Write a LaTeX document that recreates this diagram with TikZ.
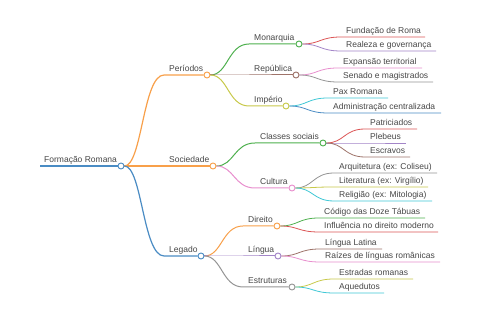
\documentclass[tikz,border=0pt]{standalone}
\usepackage{fontspec}
\setmainfont{Liberation Sans}
\usetikzlibrary{backgrounds}
\definecolor{mmblue}{HTML}{4A8CC4}
\definecolor{mmorange}{HTML}{F8A04A}
\definecolor{mmgreen}{HTML}{4EB04E}
\definecolor{mmred}{HTML}{DC5556}
\definecolor{mmpurple}{HTML}{A385C8}
\definecolor{mmbrown}{HTML}{9E7369}
\definecolor{mmpink}{HTML}{E88FCE}
\definecolor{mmgray}{HTML}{959595}
\definecolor{mmolive}{HTML}{C8C94A}
\definecolor{mmcyan}{HTML}{40C8D6}
\begin{document}
\begin{tikzpicture}[x=1pt, y=-1pt, font=\fontsize{8.5}{10}\selectfont]
      \tikzset{lbl/.style={anchor=base west, inner sep=0pt, text=black!72},
        dot/.style={circle, draw, fill=white, inner sep=0pt, minimum size=6pt, line width=0.9pt},
        l0/.style={line width=1.4pt}, l1/.style={line width=1.2pt},
        l2/.style={line width=1pt}, l3/.style={line width=0.8pt}}
      \useasboundingbox (0,0) rectangle (480,320);
      % root
      \node[lbl] (root) at (44,163) {Formação Romana};
      \coordinate (rootS) at (40,166);
      \node[dot, draw=mmblue] (rootC) at (121,166) {};
      % first level
      \node[lbl] (per) at (169,72) {Períodos};
      \coordinate (perS) at (164,75);
      \node[dot, draw=mmorange] (perC) at (207,75) {};
      \node[lbl] (soc) at (169,163) {Sociedade};
      \coordinate (socS) at (164,166);
      \node[dot, draw=mmorange] (socC) at (213,166) {};
      \node[lbl] (leg) at (169,253) {Legado};
      \coordinate (legS) at (164,256);
      \node[dot, draw=mmblue] (legC) at (201,256) {};
      % second level
      \node[lbl] (mon) at (254,41) {Monarquia};
      \coordinate (monS) at (249,44);
      \node[dot, draw=mmgreen] (monC) at (299,44) {};
      \node[lbl] (rep) at (254,72) {República};
      \coordinate (repS) at (249,75);
      \node[dot, draw=mmbrown] (repC) at (296,75) {};
      \node[lbl] (imp) at (254,103) {Império};
      \coordinate (impS) at (249,106);
      \node[dot, draw=mmolive] (impC) at (286,106) {};
      \node[lbl] (cls) at (260,140) {Classes sociais};
      \coordinate (clsS) at (255,143);
      \node[dot, draw=mmgreen] (clsC) at (323,143) {};
      \node[lbl] (cul) at (260,185) {Cultura};
      \coordinate (culS) at (255,188);
      \node[dot, draw=mmpink] (culC) at (292,188) {};
      \node[lbl] (dir) at (248,223) {Direito};
      \coordinate (dirS) at (243,226);
      \node[dot, draw=mmorange] (dirC) at (277,226) {};
      \node[lbl] (lin) at (248,253) {Língua};
      \coordinate (linS) at (243,256);
      \node[dot, draw=mmpurple] (linC) at (278,256) {};
      \node[lbl] (est) at (248,284) {Estruturas};
      \coordinate (estS) at (243,287);
      \node[dot, draw=mmgray] (estC) at (292,287) {};
      % leaves
      \node[lbl] (fun) at (346,34) {Fundação de Roma};
      \coordinate (funS) at (341,37); \coordinate (funE) at (425,37);
      \node[lbl] (rea) at (346,48) {Realeza e governança};
      \coordinate (reaS) at (341,51); \coordinate (reaE) at (436,51);
      \node[lbl] (exp) at (343,65) {Expansão territorial};
      \coordinate (expS) at (338,68); \coordinate (expE) at (422,68);
      \node[lbl] (sen) at (343,79) {Senado e magistrados};
      \coordinate (senS) at (338,82); \coordinate (senE) at (433,82);
      \node[lbl] (pax) at (333,95) {Pax Romana};
      \coordinate (paxS) at (328,98); \coordinate (paxE) at (388,98);
      \node[lbl] (adm) at (333,110) {Administração centralizada};
      \coordinate (admS) at (328,113); \coordinate (admE) at (441,113);
      \node[lbl] (pat) at (370,126) {Patriciados};
      \coordinate (patS) at (365,129); \coordinate (patE) at (417,129);
      \node[lbl] (ple) at (370,140) {Plebeus};
      \coordinate (pleS) at (365,143); \coordinate (pleE) at (406,143);
      \node[lbl] (esc) at (370,154) {Escravos};
      \coordinate (escS) at (365,157); \coordinate (escE) at (410,157);
      \node[lbl] (arq) at (339,170) {Arquitetura (ex: Coliseu)};
      \coordinate (arqS) at (334,173); \coordinate (arqE) at (437,173);
      \node[lbl] (lit) at (339,184) {Literatura (ex: Virgílio)};
      \coordinate (litS) at (334,187); \coordinate (litE) at (428,187);
      \node[lbl] (rel) at (339,198) {Religião (ex: Mitologia)};
      \coordinate (relS) at (334,201); \coordinate (relE) at (432,201);
      \node[lbl] (cod) at (324,215) {Código das Doze Tábuas};
      \coordinate (codS) at (319,218); \coordinate (codE) at (425,218);
      \node[lbl] (inf) at (324,229) {Influência no direito moderno};
      \coordinate (infS) at (319,232); \coordinate (infE) at (438,232);
      \node[lbl] (lat) at (325,246) {Língua Latina};
      \coordinate (latS) at (320,249); \coordinate (latE) at (382,249);
      \node[lbl] (rai) at (325,259) {Raízes de línguas românicas};
      \coordinate (raiS) at (320,262); \coordinate (raiE) at (440,262);
      \node[lbl] (etr) at (339,276) {Estradas romanas};
      \coordinate (etrS) at (334,279); \coordinate (etrE) at (413,279);
      \node[lbl] (aqu) at (339,290) {Aquedutos};
      \coordinate (aquS) at (334,293); \coordinate (aquE) at (384,293);
      % connectors behind the dots
      \begin{scope}[on background layer]
        \fill[white] (0,0) rectangle (480,320);
        \draw[l0, mmblue] (rootS) -- (rootC);
        \draw[l1, mmorange] (rootC) .. controls +(21,0) and +(-21,0) .. (perS) -- (perC);
        \draw[l1, mmorange] (rootC) .. controls +(21,0) and +(-21,0) .. (socS) -- (socC);
        \draw[l1, mmblue] (rootC) .. controls +(21,0) and +(-21,0) .. (legS) -- (legC);
        \draw[l2, mmgreen] (perC) .. controls +(21,0) and +(-21,0) .. (monS) -- (monC);
        \draw[l2, mmbrown] (perC) .. controls +(21,0) and +(-21,0) .. (repS) -- (repC);
        \draw[l2, mmolive] (perC) .. controls +(21,0) and +(-21,0) .. (impS) -- (impC);
        \draw[l2, mmgreen] (socC) .. controls +(21,0) and +(-21,0) .. (clsS) -- (clsC);
        \draw[l2, mmpink] (socC) .. controls +(21,0) and +(-21,0) .. (culS) -- (culC);
        \draw[l2, mmorange] (legC) .. controls +(21,0) and +(-21,0) .. (dirS) -- (dirC);
        \draw[l2, mmpurple] (legC) .. controls +(21,0) and +(-21,0) .. (linS) -- (linC);
        \draw[l2, mmgray] (legC) .. controls +(21,0) and +(-21,0) .. (estS) -- (estC);
        \draw[l3, mmred] (monC) .. controls +(21,0) and +(-21,0) .. (funS) -- (funE);
        \draw[l3, mmpurple] (monC) .. controls +(21,0) and +(-21,0) .. (reaS) -- (reaE);
        \draw[l3, mmpink] (repC) .. controls +(21,0) and +(-21,0) .. (expS) -- (expE);
        \draw[l3, mmgray] (repC) .. controls +(21,0) and +(-21,0) .. (senS) -- (senE);
        \draw[l3, mmcyan] (impC) .. controls +(21,0) and +(-21,0) .. (paxS) -- (paxE);
        \draw[l3, mmblue] (impC) .. controls +(21,0) and +(-21,0) .. (admS) -- (admE);
        \draw[l3, mmred] (clsC) .. controls +(21,0) and +(-21,0) .. (patS) -- (patE);
        \draw[l3, mmpurple] (clsC) .. controls +(21,0) and +(-21,0) .. (pleS) -- (pleE);
        \draw[l3, mmbrown] (clsC) .. controls +(21,0) and +(-21,0) .. (escS) -- (escE);
        \draw[l3, mmgray] (culC) .. controls +(21,0) and +(-21,0) .. (arqS) -- (arqE);
        \draw[l3, mmolive] (culC) .. controls +(21,0) and +(-21,0) .. (litS) -- (litE);
        \draw[l3, mmcyan] (culC) .. controls +(21,0) and +(-21,0) .. (relS) -- (relE);
        \draw[l3, mmgreen] (dirC) .. controls +(21,0) and +(-21,0) .. (codS) -- (codE);
        \draw[l3, mmred] (dirC) .. controls +(21,0) and +(-21,0) .. (infS) -- (infE);
        \draw[l3, mmbrown] (linC) .. controls +(21,0) and +(-21,0) .. (latS) -- (latE);
        \draw[l3, mmpink] (linC) .. controls +(21,0) and +(-21,0) .. (raiS) -- (raiE);
        \draw[l3, mmolive] (estC) .. controls +(21,0) and +(-21,0) .. (etrS) -- (etrE);
        \draw[l3, mmcyan] (estC) .. controls +(21,0) and +(-21,0) .. (aquS) -- (aquE);
      \end{scope}
    \end{tikzpicture}
\end{document}
